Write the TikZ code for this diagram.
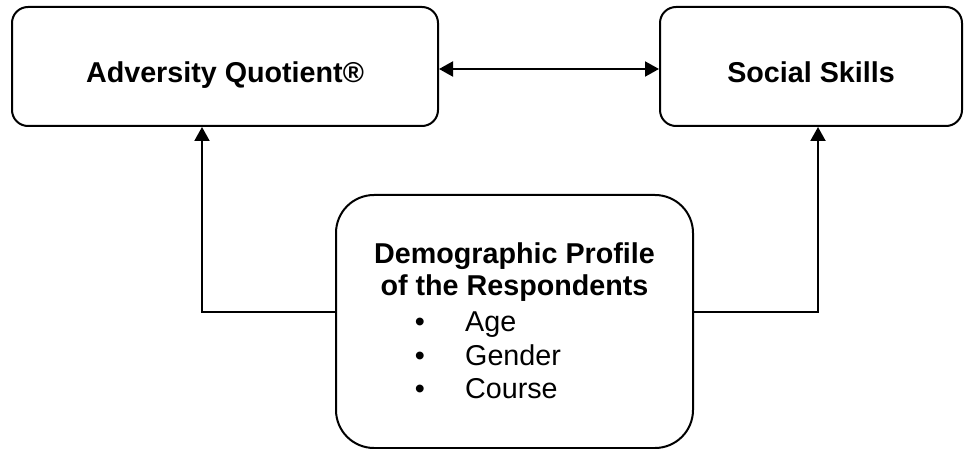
\documentclass[tikz,border=0pt]{standalone}
\usepackage{fontspec}
\setmainfont{Liberation Sans}
\usetikzlibrary{arrows.meta,positioning}
\tikzset{>={Triangle[length=14pt,width=15pt]}, % filled triangle heads
x=1pt, y=-1pt, % one unit is one pixel, y grows downwards
every node/.style={font=\fontsize{28.7}{33}\selectfont}, % text size of the whole figure
box/.style={draw, line width=2pt, rounded corners=16pt, inner sep=0pt, text height=76pt, text depth=43pt, font=\fontsize{28.7}{33}\selectfont\bfseries}, % the two upper boxes
bigbox/.style={draw, line width=2pt, rounded corners=38pt, minimum width=357pt, minimum height=253pt}, % the profile box
link/.style={->, line width=2pt}, % connector lines
}
\begin{document}
\begin{tikzpicture}
\useasboundingbox (0,0) rectangle (964,449);
\node[box, minimum width=426pt] (aq) at (225,66.5) {Adversity Quotient®};
\node[box, minimum width=302pt] (ss) at (811,66.5) {Social Skills};
\node[bigbox] (demo) at (514.5,321.5) {};
\node[anchor=base, font=\fontsize{28.7}{33}\selectfont\bfseries] (t1) at (514.5,263) {Demographic Profile};
\node[anchor=base, font=\fontsize{28.7}{33}\selectfont\bfseries] (t2) at (514.5,295) {of the Respondents};
\foreach \y/\txt [count=\i] in {331/Age, 365/Gender, 398/Course} {
  \node[anchor=base] (b\i) at (420,\y) {\textbullet};
  \node[anchor=base west, inner sep=0pt] (i\i) at (465,\y) {\txt};
}
\coordinate (mid) at (548,69);
\coordinate (lbend) at (202,312);
\coordinate (rbend) at (818,312);
\draw[link, <->] (aq.east |- mid) -- (ss.west |- mid);
\draw[link] (demo.west |- lbend) -- (lbend) -- (lbend |- aq.south);
\draw[link] (demo.east |- rbend) -- (rbend) -- (rbend |- ss.south);
\end{tikzpicture}
\end{document}
